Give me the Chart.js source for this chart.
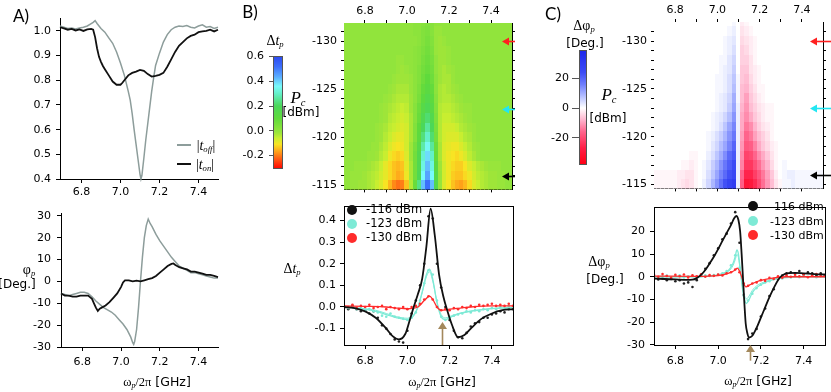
<!DOCTYPE html>
<html>
<head>
<meta charset="utf-8">
<script src="https://cdn.jsdelivr.net/npm/chart.js@4.4.1/dist/chart.umd.min.js"></script>
<style>
  body { margin: 0; background: #fff; }
  #fig { position: relative; width: 831px; height: 392px; overflow: hidden; background: #fff; font-family: 'DejaVu Sans', sans-serif; color: #000; }
  #fig canvas { position: absolute; }
  .t { position: absolute; white-space: nowrap; line-height: 1; transform: translate(-50%, -50%); }
  .l { transform: translate(0, -50%); }
  .s { font-family: 'Liberation Serif', 'DejaVu Serif', serif; }
  .i { font-family: 'Liberation Serif', 'DejaVu Serif', serif; font-style: italic; }
  .g { font-family: 'Lato', sans-serif; }
  sub { font-size: 0.62em; vertical-align: -0.3em; line-height: 0; }
  .dot { position: absolute; width: 10px; height: 10px; border-radius: 50%; transform: translate(-50%, -50%); }
  .seg { position: absolute; }
</style>
</head>
<body>
<div id="fig"></div>
<script>
// === data: frequency grid and pump powers ===
const freq = [6.70,6.72,6.74,6.76,6.78,6.80,6.82,6.84,6.86,6.88,6.90,6.92,6.94,6.96,6.98,7.00,7.02,7.04,7.06,7.08,7.10,7.12,7.14,7.16,7.18,7.20,7.22,7.24,7.26,7.28,7.30,7.32,7.34,7.36,7.38,7.40,7.42,7.44,7.46,7.48,7.50];
const powers = [-132,-131,-130,-129,-128,-127,-126,-125,-124,-123,-122,-121,-120,-119,-118,-117,-116,-115];
const powerTicks = [-131,-130,-129,-128,-127,-126,-125,-124,-123,-122,-121,-120,-119,-118,-117,-116,-115];
const heatXTicks = [6.8,6.9,7.0,7.1,7.2,7.3,7.4];
const xTicks = [6.8,7.0,7.2,7.4];
const ampTicks = [0.4,0.5,0.6,0.7,0.8,0.9,1.0];
const phaseTicks = [-30,-20,-10,0,10,20,30];
const dtTicks = [-0.1,0.0,0.1,0.2,0.3,0.4];
const dphiTicks = [-30,-20,-10,0,10,20];
const cbarBTicks = [-0.2,0.0,0.2,0.4,0.6];
const cbarCTicks = [-20,0,20];
const legendPowers = [-116,-123,-130];
const arrowPowers = [-130,-123,-116];

// panel A: |t| and phase, pump off / on
const tOffX = [6.69,6.71,6.73,6.75,6.77,6.79,6.81,6.83,6.85,6.86,6.87,6.88,6.90,6.92,6.94,6.96,6.98,7.00,7.02,7.04,7.05,7.06,7.07,7.08,7.09,7.10,7.105,7.11,7.12,7.13,7.14,7.15,7.16,7.17,7.18,7.20,7.22,7.24,7.26,7.28,7.30,7.32,7.34,7.36,7.38,7.40,7.42,7.44,7.46,7.48,7.50];
const tOff = [1.02,1.015,1.01,1.012,1.008,1.012,1.015,1.02,1.03,1.035,1.042,1.03,1.01,0.995,0.972,0.95,0.915,0.87,0.82,0.755,0.72,0.665,0.60,0.54,0.48,0.42,0.40,0.415,0.485,0.56,0.625,0.69,0.755,0.81,0.86,0.91,0.955,0.985,1.005,1.015,1.02,1.018,1.022,1.015,1.012,1.02,1.025,1.015,1.018,1.01,1.015];
const tOnX = [6.69,6.71,6.73,6.75,6.77,6.79,6.81,6.83,6.85,6.86,6.87,6.88,6.89,6.90,6.91,6.92,6.94,6.96,6.98,7.00,7.01,7.02,7.04,7.06,7.08,7.10,7.12,7.14,7.16,7.18,7.20,7.22,7.24,7.26,7.28,7.30,7.32,7.34,7.36,7.38,7.40,7.42,7.44,7.46,7.48,7.50];
const tOn = [1.015,1.01,1.005,1.008,1.002,1.006,1.0,1.006,1.008,1.005,0.975,0.93,0.895,0.875,0.858,0.845,0.82,0.795,0.782,0.782,0.79,0.80,0.82,0.83,0.835,0.842,0.838,0.825,0.815,0.818,0.822,0.83,0.855,0.885,0.915,0.94,0.955,0.97,0.98,0.985,0.995,0.998,1.0,1.005,0.998,1.005];
const phiOffX = [6.69,6.71,6.73,6.75,6.77,6.79,6.81,6.83,6.85,6.87,6.89,6.91,6.93,6.95,6.97,6.99,7.01,7.03,7.05,7.06,7.065,7.07,7.08,7.09,7.10,7.11,7.12,7.13,7.14,7.15,7.16,7.18,7.20,7.22,7.24,7.26,7.28,7.30,7.32,7.34,7.36,7.38,7.40,7.42,7.44,7.46,7.48,7.50];
const phiOff = [-5.5,-6,-6.5,-6,-5.5,-5,-5,-5.5,-7,-9,-10.5,-12,-13,-14,-15.5,-17.5,-19.5,-22,-25.5,-28,-28.8,-27.5,-22,-12,0,11,20,25.5,28.5,26.5,25,21.5,18.5,16,13.5,11,9,7,6,5,4,4,3.5,3,2.5,2,1.5,1.5];
const phiOnX = [6.69,6.71,6.73,6.75,6.77,6.79,6.81,6.83,6.85,6.86,6.87,6.88,6.89,6.90,6.92,6.94,6.96,6.98,7.00,7.01,7.02,7.04,7.06,7.08,7.10,7.12,7.14,7.16,7.18,7.20,7.22,7.24,7.26,7.27,7.28,7.30,7.32,7.34,7.36,7.38,7.40,7.42,7.44,7.46,7.48,7.50];
const phiOn = [-5.5,-6.5,-6.5,-7,-7,-6.5,-6.5,-6.5,-8,-10,-12,-13.5,-12.5,-12,-11,-9.5,-7.5,-5.5,-2.5,-0.5,0.5,0.5,0,0.3,0,0.5,1,1.5,2.5,4,5.5,7,8,8.2,7.5,6.5,6,5.5,4.5,4.5,4,3.5,3,3,2.5,2];

// panel B map: delta t x 100, rows = powers, columns = freq
const heatB = [
  [0,0,0,0,0,0,0,0,0,0, 0,0,0,0,0,0,0,1,1,2, 3,2,0,0,0,0,0,0,0,0, 0,0,0,0,0,0,0,0,0,0,0],
  [0,0,0,0,0,0,0,0,0,0, 0,0,0,0,0,0,0,1,1,3, 4,2,-1,-1,0,0,0,0,0,0, 0,0,0,0,0,0,0,0,0,0,0],
  [0,0,0,0,0,0,0,0,0,0, 0,0,0,0,0,0,0,0,1,3, 5,3,-1,-2,-1,0,0,0,0,0, 0,0,0,0,0,0,0,0,0,0,0],
  [0,0,0,0,0,0,0,0,0,0, 0,0,0,0,0,0,0,1,2,4, 6,4,-1,-2,-2,-1,0,0,0,0, 0,0,0,0,0,0,0,0,0,0,0],
  [0,0,0,0,0,0,0,0,0,0, 0,0,0,-1,-1,0,0,1,2,5, 7,5,0,-2,-2,-1,0,0,0,0, 0,0,0,0,0,0,0,0,0,0,0],
  [0,0,0,0,0,0,0,0,0,0, 0,0,0,-1,-2,-1,0,1,3,6, 8,6,0,-2,-3,-2,-1,0,0,0, 0,0,0,0,0,0,0,0,0,0,0],
  [0,0,0,0,0,0,0,0,0,0, 0,0,-1,-2,-2,-2,-1,1,3,7, 10,7,1,-2,-3,-3,-1,0,0,0, 0,0,0,0,0,0,0,0,0,0,0],
  [0,0,0,0,0,0,0,0,0,0, 0,-1,-2,-3,-3,-3,-1,1,4,9, 12,9,1,-3,-4,-3,-2,-1,0,0, 0,0,0,0,0,0,0,0,0,0,0],
  [0,0,0,0,0,0,0,0,0,0, -1,-2,-3,-4,-4,-4,-2,1,5,11, 15,11,2,-3,-4,-4,-3,-2,-1,0, 0,0,0,0,0,0,0,0,0,0,0],
  [0,0,0,0,0,0,0,0,0,-1, -2,-3,-4,-5,-6,-5,-2,2,7,14, 18,13,3,-4,-5,-5,-4,-3,-2,-1, -1,0,0,0,0,0,0,0,0,0,0],
  [0,0,0,0,0,0,0,0,0,-1, -2,-4,-5,-6,-7,-6,-3,2,8,17, 22,16,4,-4,-6,-6,-5,-4,-3,-2, -1,0,0,0,0,0,0,0,0,0,0],
  [0,0,0,0,0,0,0,0,-1,-2, -3,-5,-6,-7,-8,-7,-3,3,10,20, 26,19,5,-4,-7,-7,-7,-6,-4,-3, -2,-1,0,0,0,0,0,0,0,0,0],
  [0,0,0,0,0,0,0,0,-1,-2, -4,-6,-8,-9,-9,-7,-3,3,11,23, 30,22,6,-4,-7,-8,-8,-8,-6,-4, -3,-1,0,0,0,0,0,0,0,0,0],
  [0,0,0,0,0,0,0,-1,-1,-3, -5,-8,-10,-11,-10,-7,-2,5,14,27, 35,26,8,-3,-8,-9,-10,-10,-8,-6, -4,-2,-1,0,0,0,0,0,0,0,0],
  [0,0,0,0,0,0,-1,-1,-2,-4, -6,-10,-12,-13,-12,-8,-2,6,16,31, 39,30,9,-3,-8,-10,-11,-12,-10,-8, -5,-3,-1,0,0,0,0,0,0,0,0],
  [0,0,0,-1,-1,-1,-2,-3,-4,-6, -9,-12,-14,-15,-14,-9,-3,6,17,33, 42,33,12,-2,-7,-10,-12,-13,-13,-11, -8,-6,-4,-3,-2,-1,-1,-1,0,0,0],
  [0,0,-1,-1,-1,-2,-3,-4,-5,-7, -9,-12,-14,-16,-15,-10,-3,6,18,36, 45,36,14,-1,-7,-10,-13,-14,-14,-12, -10,-7,-5,-4,-3,-2,-2,-1,-1,0,0],
  [0,0,-1,-1,-2,-2,-3,-4,-6,-8, -11,-15,-19,-21,-20,-14,-4,8,24,42, 52,42,16,-1,-8,-11,-14,-16,-17,-15, -12,-8,-6,-4,-3,-2,-2,-1,-1,0,0]
];

// panel C map: delta phi in degrees
const heatC = [
  [0,0,0,0,0,0,0,0,0,0, 0,0,0,0,0,0,0,0,0,1, 0,-2,-1,0,0,0,0,0,0,0, 0,0,0,0,0,0,0,0,0,0,0],
  [0,0,0,0,0,0,0,0,0,0, 0,0,0,0,0,0,0,0,1,2, 0,-3,-2,-1,0,0,0,0,0,0, 0,0,0,0,0,0,0,0,0,0,0],
  [0,0,0,0,0,0,0,0,0,0, 0,0,0,0,0,0,0,1,2,3, 0,-4,-3,-2,-1,0,0,0,0,0, 0,0,0,0,0,0,0,0,0,0,0],
  [0,0,0,0,0,0,0,0,0,0, 0,0,0,0,0,0,0,1,2,4, 0,-5,-4,-2,-1,0,0,0,0,0, 0,0,0,0,0,0,0,0,0,0,0],
  [0,0,0,0,0,0,0,0,0,0, 0,0,0,0,0,0,1,1,3,5, 0,-5,-5,-3,-1,0,0,0,0,0, 0,0,0,0,0,0,0,0,0,0,0],
  [0,0,0,0,0,0,0,0,0,0, 0,0,0,0,0,0,1,2,3,6, 0,-6,-6,-3,-2,-1,0,0,0,0, 0,0,0,0,0,0,0,0,0,0,0],
  [0,0,0,0,0,0,0,0,0,0, 0,0,0,0,0,1,1,2,4,7, 1,-6,-7,-4,-2,-1,0,0,0,0, 0,0,0,0,0,0,0,0,0,0,0],
  [0,0,0,0,0,0,0,0,0,0, 0,0,0,0,0,1,1,2,4,8, 1,-7,-8,-5,-3,-1,-1,0,0,0, 0,0,0,0,0,0,0,0,0,0,0],
  [0,0,0,0,0,0,0,0,0,0, 0,0,0,0,0,1,2,3,5,10, 1,-7,-10,-6,-4,-2,-1,0,0,0, 0,0,0,0,0,0,0,0,0,0,0],
  [0,0,0,0,0,0,0,0,0,0, 0,0,0,0,0,1,2,3,6,11, 2,-8,-11,-7,-5,-3,-2,-1,-1,0, 0,0,0,0,0,0,0,0,0,0,0],
  [0,0,0,0,0,0,0,0,0,0, 0,0,0,0,1,2,3,5,8,13, 2,-9,-12,-9,-6,-4,-2,-1,-1,0, 0,0,0,0,0,0,0,0,0,0,0],
  [0,0,0,0,0,0,0,0,0,0, 0,0,0,0,1,2,4,7,11,15, 2,-9,-14,-12,-8,-5,-3,-2,-1,0, 0,0,0,0,0,0,0,0,0,0,0],
  [0,0,0,0,0,0,0,0,0,0, 0,0,0,1,2,4,6,9,13,17, 2,-10,-16,-14,-10,-7,-5,-3,-1,0, 0,0,0,0,0,0,0,0,0,0,0],
  [0,0,0,0,0,0,0,0,0,0, 0,0,0,1,3,5,8,11,15,20, 2,-11,-18,-17,-13,-9,-6,-4,-2,-1, 0,0,0,0,0,0,0,0,0,0,0],
  [0,0,0,0,0,0,0,0,0,-1, -1,0,0,2,4,7,10,14,19,22, 2,-12,-21,-20,-16,-12,-9,-6,-3,-1, 0,0,0,0,0,0,0,0,0,0,0],
  [0,0,0,0,0,0,0,-1,-1,-2, -1,0,1,3,6,9,13,17,21,24, 2,-13,-23,-23,-19,-15,-11,-8,-4,-1, 0,1,0,0,0,0,0,0,0,0,0],
  [-1,-1,-1,-1,-1,-1,-2,-2,-3,-3, -1,0,1,4,7,11,15,19,23,26, 2,-16,-26,-26,-22,-18,-14,-10,-6,-2, 0,1,2,2,1,1,1,1,1,1,1],
  [-1,-1,-1,-1,-1,-1,-2,-3,-4,-3, -1,0,2,5,9,13,18,23,27,30, 2,-17,-30,-29,-25,-20,-15,-11,-7,-3, -1,1,1,2,1,1,1,1,1,1,1]
];

// panel B cuts: fits and measured points
const fitB116X = [6.70,6.75,6.80,6.85,6.90,6.93,6.96,6.99,7.01,7.03,7.05,7.07,7.09,7.11,7.13,7.15,7.17,7.19,7.21,7.24,7.27,7.30,7.35,7.40,7.45,7.50];
const fitB116 = [0.0,-0.005,-0.02,-0.05,-0.10,-0.135,-0.15,-0.125,-0.065,0.0,0.06,0.13,0.28,0.455,0.33,0.15,0.05,-0.02,-0.08,-0.14,-0.13,-0.10,-0.055,-0.03,-0.015,-0.01];
const fitB123X = [6.70,6.75,6.80,6.85,6.90,6.95,7.00,7.03,7.05,7.07,7.09,7.105,7.12,7.14,7.16,7.18,7.21,7.25,7.30,7.35,7.40,7.45,7.50];
const fitB123 = [0.0,-0.005,-0.01,-0.02,-0.035,-0.05,-0.058,-0.04,0.0,0.07,0.15,0.175,0.13,0.02,-0.045,-0.058,-0.045,-0.03,-0.02,-0.013,-0.008,-0.005,-0.003];
const fitB123b = [0.0,-0.003,-0.008,-0.015,-0.03,-0.045,-0.052,-0.035,0.0,0.065,0.14,0.163,0.12,0.025,-0.035,-0.05,-0.04,-0.028,-0.018,-0.012,-0.007,-0.004,-0.002];
const fitB130X = [6.70,6.80,6.90,6.95,7.00,7.05,7.08,7.105,7.12,7.14,7.16,7.20,7.25,7.30,7.40,7.50];
const fitB130 = [0.005,0.003,0.0,-0.005,-0.008,0.0,0.03,0.05,0.035,0.0,-0.015,-0.01,-0.005,0.0,0.005,0.005];
const dotsB116 = [0.00,-0.01,0.005,-0.01,-0.02,-0.015,-0.03,-0.02,-0.05,-0.085,-0.10,-0.125,-0.15,-0.16,-0.165,-0.11,-0.03,0.03,0.10,0.20,0.42,0.41,0.20,0.09,0.0,-0.06,-0.11,-0.14,-0.145,-0.12,-0.09,-0.075,-0.07,-0.05,-0.05,-0.035,-0.03,-0.02,-0.025,-0.01,-0.01];
const dotsB123 = [0.005,-0.005,0.0,-0.01,-0.005,-0.015,-0.01,-0.02,-0.025,-0.04,-0.045,-0.03,-0.045,-0.05,-0.055,-0.06,-0.05,-0.025,0.03,0.11,0.17,0.15,0.03,-0.045,-0.06,-0.05,-0.04,-0.035,-0.03,-0.02,-0.025,-0.015,-0.02,-0.01,-0.015,-0.005,-0.01,0.0,-0.005,0.005,0.0];
const dotsB130 = [0.005,0.0,0.01,-0.005,0.005,0.0,0.01,-0.005,0.0,0.005,-0.01,0.0,-0.005,-0.01,0.0,-0.01,0.0,0.005,0.015,0.035,0.05,0.035,0.0,-0.015,-0.01,-0.015,-0.005,-0.01,0.0,-0.005,0.005,0.0,0.01,0.005,0.01,0.015,0.005,0.01,0.005,0.015,0.005];

// panel C cuts
const fitC116X = [6.70,6.75,6.80,6.85,6.88,6.90,6.92,6.94,6.96,6.98,7.00,7.02,7.04,7.06,7.075,7.085,7.095,7.103,7.11,7.116,7.123,7.129,7.137,7.145,7.16,7.18,7.20,7.22,7.24,7.26,7.28,7.30,7.33,7.36,7.40,7.45,7.50];
const fitC116 = [-0.8,-1.0,-1.2,-1.4,-1.3,-0.6,0.8,3.0,5.8,8.8,12.2,15.8,19.3,22.8,25.8,26.8,25.0,20.0,10.0,0.0,-12.0,-20.6,-25.0,-26.8,-26.0,-22.5,-18.0,-13.5,-9.0,-5.0,-1.5,0.6,1.6,1.7,1.5,1.2,1.0];
const fitC123X = [6.70,6.90,6.95,7.00,7.03,7.05,7.07,7.08,7.088,7.095,7.105,7.115,7.125,7.132,7.145,7.16,7.18,7.21,7.25,7.30,7.40,7.50];
const fitC123 = [0.0,0.0,0.3,0.8,1.8,3.0,6.0,9.0,11.8,10.0,2.0,-6.0,-10.5,-11.8,-10.0,-7.0,-4.8,-3.0,-1.5,-0.5,0.0,0.0];
const fitC123b = [0.0,0.0,0.2,0.6,1.4,2.5,5.0,7.5,9.8,8.5,1.5,-5.0,-8.8,-9.8,-8.5,-6.0,-4.0,-2.5,-1.2,-0.4,0.0,0.0];
const fitC130X = [6.70,6.90,7.00,7.05,7.08,7.09,7.10,7.11,7.12,7.13,7.15,7.18,7.22,7.26,7.32,7.50];
const fitC130 = [0.3,0.2,0.5,1.6,3.0,3.8,2.5,0.0,-3.0,-4.5,-3.5,-2.2,-1.2,-0.5,0.0,0.0];
const dotsC116 = [-0.5,-1.2,-0.8,-1.5,-1.0,-2.0,-1.5,-3.0,-2.5,-4.5,-1.5,0.5,3.5,6.0,9.5,12.5,16.5,19.0,23.5,28.5,15.0,-8.0,-27.5,-25.0,-23.0,-17.5,-14.0,-8.5,-5.5,-1.0,0.5,1.5,2.0,1.5,2.5,1.0,2.0,1.5,0.5,1.5,0.5];
const dotsC123 = [0.5,-0.3,0.2,0.5,-0.2,0.3,0.6,-0.3,0.2,0.4,0.0,0.3,0.6,0.3,0.8,1.0,1.5,2.5,5.0,9.5,4.0,-8.5,-10.5,-7.5,-5.0,-3.5,-2.5,-2.0,-1.0,-0.5,-0.8,0.2,-0.3,0.4,-0.2,0.3,0.0,0.5,-0.2,0.3,0.0];
const dotsC130 = [0.8,0.0,1.2,0.3,-0.5,0.9,0.2,1.0,-0.3,0.6,0.2,1.1,0.0,0.7,0.4,1.0,0.6,1.5,2.0,3.2,2.0,-3.0,-4.0,-3.0,-2.5,-1.5,-1.8,-0.5,-1.0,0.2,-0.4,0.6,0.0,0.9,0.2,1.0,-0.2,0.5,1.2,0.3,0.6];

// === styles ===
const FONT = "'DejaVu Sans', sans-serif";
const BLACK = '#111';
const GRAY = '#8d9d9b';
const CYAN = '#7eead6';
const RED = '#ff2b2b';
const BROWN = '#a3885c';
const seriesColors = [BLACK, CYAN, RED];
const arrowColors = ['#ff2020', '#22e6f2', '#000'];
const stopsB = [
  [-0.31, [255, 0, 0]], [-0.23, [255, 90, 20]], [-0.17, [255, 160, 25]], [-0.11, [248, 228, 35]],
  [-0.06, [200, 238, 48]], [-0.02, [158, 229, 57]], [0.0, [145, 228, 60]], [0.10, [95, 218, 60]],
  [0.20, [75, 215, 90]], [0.30, [100, 240, 200]], [0.36, [120, 250, 250]], [0.44, [90, 170, 255]],
  [0.52, [60, 110, 250]], [0.60, [45, 75, 240]]
];
const stopsC = [
  [-38, [255, 0, 20]], [-27, [255, 30, 70]], [-16, [255, 100, 140]], [-8, [255, 180, 205]], [0, [255, 255, 255]],
  [8, [180, 190, 255]], [16, [110, 125, 252]], [24, [60, 75, 245]], [39, [30, 40, 235]]
];

const fig = document.getElementById('fig');

function colorAt(stops, v) {
  if (v <= stops[0][0]) return 'rgb(' + stops[0][1].join(',') + ')';
  for (let k = 1; k < stops.length; k++) {
    if (v <= stops[k][0]) {
      const [v0, c0] = stops[k - 1], [v1, c1] = stops[k];
      const f = (v - v0) / (v1 - v0);
      return 'rgb(' + c0.map((c, j) => Math.round(c + (c1[j] - c) * f)).join(',') + ')';
    }
  }
  return 'rgb(' + stops[stops.length - 1][1].join(',') + ')';
}

// canvas placed so that the chart area lands on the given box
function addCanvas(area, sz, pad) {
  const c = document.createElement('canvas');
  const left = area.l - sz.l - pad.l, top = area.t - sz.t - pad.t;
  const w = area.r - area.l + sz.l + sz.r + pad.l + pad.r;
  const h = area.b - area.t + sz.t + sz.b + pad.t + pad.b;
  c.width = w; c.height = h;
  Object.assign(c.style, { left: left + 'px', top: top + 'px', width: w + 'px', height: h + 'px' });
  fig.appendChild(c);
  return c;
}

function axis(pos, min, max, ticks, o) {
  return {
    type: 'linear', position: pos, min: min, max: max, reverse: !!o.reverse, z: 1,
    afterBuildTicks: s => { s.ticks = ticks.map(v => ({ value: v })); },
    afterFit: s => { if (s.isHorizontal()) s.height = o.size; else s.width = o.size; },
    ticks: {
      display: o.labels !== false, autoSkip: false, maxRotation: 0, minRotation: 0,
      padding: o.pad == null ? 3 : o.pad, color: '#000',
      font: { family: FONT, size: 11 }, callback: o.fmt || (v => v)
    },
    grid: { drawOnChartArea: false, drawTicks: true, tickLength: o.tick == null ? 4 : o.tick, color: o.color || '#000', lineWidth: 1 },
    border: { display: true, color: o.color || '#000', width: 1 }
  };
}
const f1 = v => v.toFixed(1);

function makeChart(area, sz, pad, scales, datasets, plugins) {
  const canvas = addCanvas(area, sz, pad);
  return new Chart(canvas, {
    type: 'scatter',
    data: { datasets: datasets },
    options: {
      responsive: false, animation: false, devicePixelRatio: 1, events: [],
      layout: { autoPadding: false, padding: { left: pad.l, top: pad.t, right: pad.r, bottom: pad.b } },
      plugins: { legend: { display: false }, tooltip: { enabled: false } },
      scales: scales
    },
    plugins: plugins || []
  });
}

function line(xs, ys, color, width, smooth) {
  return {
    data: xs.map((x, i) => ({ x: x, y: ys[i] })), showLine: true, borderColor: color, borderWidth: width,
    pointRadius: 0, tension: 0, cubicInterpolationMode: smooth ? 'monotone' : 'default', clip: 3
  };
}
function dots(xs, ys, color, r) {
  return { data: xs.map((x, i) => ({ x: x, y: ys[i] })), showLine: false, pointRadius: r, backgroundColor: color, borderWidth: 0 };
}

// === plugins ===
function heatPlugin(rows, stops, unit) {
  return {
    id: 'heat',
    beforeDatasetsDraw(chart) {
      const { ctx, chartArea: a, scales } = chart;
      ctx.save();
      ctx.beginPath(); ctx.rect(a.left, a.top, a.width, a.height); ctx.clip();
      rows.forEach((row, r) => {
        const ya = scales.y.getPixelForValue(powers[r] - 0.5), yb = scales.y.getPixelForValue(powers[r] + 0.5);
        const top = Math.floor(Math.min(ya, yb)), bot = Math.ceil(Math.max(ya, yb));
        row.forEach((v, i) => {
          const xa = Math.floor(scales.x.getPixelForValue(freq[i] - 0.01));
          const xb = Math.ceil(scales.x.getPixelForValue(freq[i] + 0.01));
          ctx.fillStyle = colorAt(stops, v * unit);
          ctx.fillRect(xa, top, xb - xa, bot - top);
        });
      });
      ctx.restore();
    }
  };
}
function barPlugin(stops) {
  return {
    id: 'cbar',
    beforeDatasetsDraw(chart) {
      const { ctx, chartArea: a, scales } = chart;
      for (let py = Math.floor(a.top); py < Math.ceil(a.bottom); py++) {
        ctx.fillStyle = colorAt(stops, scales.y.getValueForPixel(py + 0.5));
        ctx.fillRect(a.left, py, a.width, 1);
      }
    }
  };
}
function framePlugin(color) {
  return {
    id: 'frame',
    afterDraw(chart) {
      const { ctx, chartArea: a } = chart;
      const al = v => Math.round(v - 0.5) + 0.5;
      ctx.save(); ctx.strokeStyle = color; ctx.lineWidth = 1;
      ctx.strokeRect(al(a.left), al(a.top), al(a.right) - al(a.left), al(a.bottom) - al(a.top));
      ctx.restore();
    }
  };
}
function arrowsPlugin(tipOff, tailOff) {
  return {
    id: 'arrows',
    afterDraw(chart) {
      const { ctx, chartArea: a, scales } = chart;
      arrowPowers.forEach((p, i) => {
        const yy = Math.round(scales.y.getPixelForValue(p)) + 0.5;
        const x0 = a.right - tipOff, x1 = a.right + tailOff;
        ctx.save();
        ctx.strokeStyle = ctx.fillStyle = arrowColors[i]; ctx.lineWidth = 1.6;
        ctx.beginPath(); ctx.moveTo(x0 + 5, yy); ctx.lineTo(x1, yy); ctx.stroke();
        ctx.beginPath(); ctx.moveTo(x0, yy); ctx.lineTo(x0 + 7, yy - 4); ctx.lineTo(x0 + 7, yy + 4); ctx.closePath(); ctx.fill();
        ctx.restore();
      });
    }
  };
}
function markPlugin(xv, yTip, yTail) {
  return {
    id: 'mark',
    afterDraw(chart) {
      const { ctx, scales } = chart;
      const x = Math.round(scales.x.getPixelForValue(xv)) + 0.5;
      const y0 = scales.y.getPixelForValue(yTip), y1 = scales.y.getPixelForValue(yTail);
      ctx.save();
      ctx.strokeStyle = ctx.fillStyle = BROWN; ctx.lineWidth = 1.6;
      ctx.beginPath(); ctx.moveTo(x, y0 + 5); ctx.lineTo(x, y1); ctx.stroke();
      ctx.beginPath(); ctx.moveTo(x, y0); ctx.lineTo(x - 4.5, y0 + 7); ctx.lineTo(x + 4.5, y0 + 7); ctx.closePath(); ctx.fill();
      ctx.restore();
    }
  };
}

// === text helpers ===
function txt(html, cx, cy, size, cls) {
  const d = document.createElement('div');
  d.className = 't' + (cls ? ' ' + cls : '');
  d.style.left = cx + 'px'; d.style.top = cy + 'px'; d.style.fontSize = size + 'px';
  d.innerHTML = html;
  fig.appendChild(d);
}
function legendDot(cx, cy, color) {
  const d = document.createElement('div');
  d.className = 'dot';
  d.style.left = cx + 'px'; d.style.top = cy + 'px'; d.style.background = color;
  fig.appendChild(d);
}
function seg(x, y, w, h, color) {
  const d = document.createElement('div');
  d.className = 'seg';
  Object.assign(d.style, { left: x + 'px', top: y + 'px', width: w + 'px', height: h + 'px', background: color });
  fig.appendChild(d);
}

// === panel A ===
makeChart({ l: 60, t: 15, r: 218, b: 179 }, { l: 60, t: 0, r: 0, b: 26 }, { l: 0, t: 8, r: 6, b: 0 }, {
  x: axis('bottom', 6.69, 7.5, xTicks, { size: 26, tick: 4, pad: 3, fmt: f1 }),
  y: axis('left', 0.4, 1.05, ampTicks, { size: 60, tick: 4, pad: 5, fmt: f1 })
}, [line(tOnX, tOn, BLACK, 1.8), line(tOffX, tOff, GRAY, 1.5)]);

makeChart({ l: 61, t: 205, r: 218, b: 347 }, { l: 61, t: 0, r: 0, b: 24 }, { l: 0, t: 4, r: 6, b: 0 }, {
  x: axis('bottom', 6.69, 7.5, xTicks, { size: 24, tick: 4, pad: 5, fmt: f1 }),
  y: axis('left', -30, 31, phaseTicks, { size: 61, tick: 4, pad: 6 })
}, [line(phiOnX, phiOn, BLACK, 1.8), line(phiOffX, phiOff, GRAY, 1.5)]);

// === panel B ===
makeChart({ l: 273, t: 53, r: 282, b: 172 }, { l: 40, t: 0, r: 0, b: 0 }, { l: 0, t: 8, r: 2, b: 8 }, {
  x: { type: 'linear', display: false, min: 0, max: 1 },
  y: axis('left', -0.305, 0.6, cbarBTicks, { size: 40, tick: 4, pad: 5, fmt: f1, color: '#555' })
}, [], [barPlugin(stopsB), framePlugin('#555')]);

makeChart({ l: 344, t: 23, r: 512, b: 196 }, { l: 40, t: 23, r: 4, b: 4 }, { l: 0, t: 0, r: 2, b: 0 }, {
  x: axis('bottom', 6.7, 7.5, heatXTicks, { size: 4, tick: 3, labels: false }),
  x2: axis('top', 6.7, 7.5, heatXTicks, { size: 23, tick: 3, pad: 2, fmt: (v, i) => (i % 2 === 0 ? v.toFixed(1) : '') }),
  y: axis('left', -131.9, -114.6, powerTicks, { size: 40, tick: 3, pad: 4, reverse: true, fmt: v => (v % 5 === 0 ? String(v) : '') }),
  y2: axis('right', -131.9, -114.6, powerTicks, { size: 4, tick: 3, labels: false, reverse: true })
}, [], [heatPlugin(heatB, stopsB, 0.01), arrowsPlugin(10, 3)]);

makeChart({ l: 344, t: 196, r: 513, b: 345 }, { l: 40, t: 0, r: 0, b: 22 }, { l: 0, t: 0, r: 4, b: 0 }, {
  x: axis('bottom', 6.7, 7.5, xTicks, { size: 22, tick: 4, pad: 6, fmt: f1 }),
  y: axis('left', -0.176, 0.465, dtTicks, { size: 40, tick: 4, pad: 4, fmt: f1 })
}, [
  line(fitB116X, fitB116, BLACK, 1.8, true),
  line(fitB130X, fitB130, RED, 1.3, true),
  dots(freq, dotsB130, RED, 1.3),
  line(fitB123X, fitB123, CYAN, 1.3, true),
  line(fitB123X, fitB123b, CYAN, 1.0, true),
  dots(freq, dotsB123, CYAN, 1.3),
  dots(freq, dotsB116, '#222', 1.3)
], [framePlugin('#000'), markPlugin(7.166, -0.07, -0.176)]);

// === panel C ===
makeChart({ l: 579, t: 49, r: 586, b: 166 }, { l: 40, t: 0, r: 0, b: 0 }, { l: 0, t: 8, r: 2, b: 8 }, {
  x: { type: 'linear', display: false, min: 0, max: 1 },
  y: axis('left', -38, 38.7, cbarCTicks, { size: 40, tick: 7, pad: 3, color: '#555' })
}, [], [barPlugin(stopsC), framePlugin('#555')]);

makeChart({ l: 654, t: 22, r: 823, b: 195 }, { l: 40, t: 22, r: 4, b: 4 }, { l: 0, t: 0, r: 8, b: 0 }, {
  x: axis('bottom', 6.7, 7.5, heatXTicks, { size: 4, tick: 3, labels: false }),
  x2: axis('top', 6.7, 7.5, heatXTicks, { size: 22, tick: 3, pad: 2, fmt: (v, i) => (i % 2 === 0 ? v.toFixed(1) : '') }),
  y: axis('left', -132, -114.6, powerTicks, { size: 40, tick: 3, pad: 4, reverse: true, fmt: v => (v % 5 === 0 ? String(v) : '') }),
  y2: axis('right', -132, -114.6, powerTicks, { size: 4, tick: 3, labels: false, reverse: true })
}, [], [heatPlugin(heatC, stopsC, 1), arrowsPlugin(13, 8)]);

makeChart({ l: 654, t: 196, r: 825, b: 345 }, { l: 40, t: 0, r: 0, b: 22 }, { l: 0, t: 0, r: 4, b: 0 }, {
  x: axis('bottom', 6.7, 7.5, xTicks, { size: 22, tick: 4, pad: 6, fmt: f1 }),
  y: axis('left', -30.1, 30.5, dphiTicks, { size: 40, tick: 4, pad: 5 })
}, [
  line(fitC116X, fitC116, BLACK, 1.8, true),
  line(fitC130X, fitC130, RED, 1.3, true),
  dots(freq, dotsC130, RED, 1.3),
  line(fitC123X, fitC123, CYAN, 1.3, true),
  line(fitC123X, fitC123b, CYAN, 1.0, true),
  dots(freq, dotsC123, CYAN, 1.3),
  dots(freq, dotsC116, '#222', 1.3)
], [framePlugin('#000'), markPlugin(7.148, -30.1, -37)]);

// === labels ===
const omega = '<span class="s">ω<sub class="i">p</sub>/2π</span> [GHz]';
txt('A)', 21, 15, 17, 'g');
txt('B)', 250, 11, 17, 'g');
txt('C)', 553, 13, 17, 'g');

// panel A
seg(177, 144, 14, 1.5, GRAY);
seg(177, 163, 14, 2, BLACK);
txt('<span class="s">|<i>t</i><sub><i>off</i></sub>|</span>', 206, 145, 14);
txt('<span class="s">|<i>t</i><sub><i>on</i></sub>|</span>', 205, 164, 14);
txt('<span class="s">φ</span><sub class="i">p</sub>', 29, 269, 14);
txt('[Deg.]', 17, 284, 12);
txt(omega, 157, 382, 12.5);

// panel B
txt('<span class="s">Δ<i>t</i><sub><i>p</i></sub></span>', 275, 40, 14);
txt('<span class="i">P<sub>c</sub></span>', 298, 97, 17);
txt('[dBm]', 301, 112, 12);
txt('<span class="s">Δ<i>t</i><sub><i>p</i></sub></span>', 292, 268, 14);
txt(omega, 442, 382, 12.5);

// panel C
txt('<span class="s">Δφ<sub><i>p</i></sub></span>', 584, 25, 14);
txt('[Deg.]', 585, 43, 12);
txt('<span class="i">P<sub>c</sub></span>', 609, 94, 17);
txt('[dBm]', 608, 118, 12);
txt('<span class="s">Δφ<sub><i>p</i></sub></span>', 599, 261, 14);
txt('[Deg.]', 605, 279, 12);
txt(omega, 758, 381, 12.5);

// legends of the cuts
legendPowers.forEach((p, i) => {
  legendDot(352, 210 + i * 14, seriesColors[i]);
  txt(p + ' dBm', 366, 210 + i * 14, 11.5, 'l');
  legendDot(753, 206 + i * 14.5, seriesColors[i]);
  txt(p + ' dBm', 770, 206 + i * 14.5, 11, 'l');
});
</script>
</body>
</html>
